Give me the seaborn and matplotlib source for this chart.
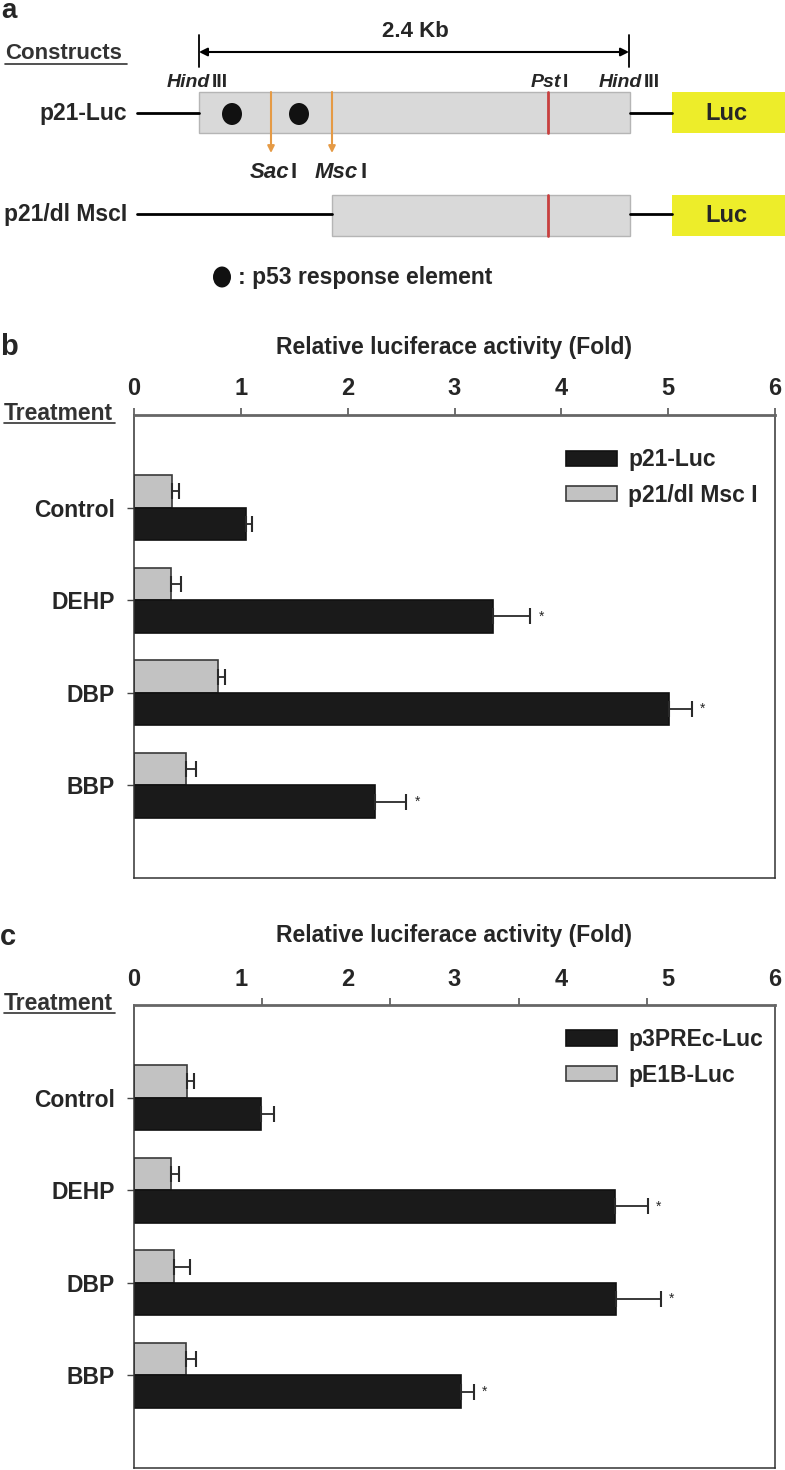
import matplotlib
matplotlib.use("Agg")
import matplotlib.pyplot as plt
import matplotlib.patches as mpatches
import numpy as np
import pandas as pd
import seaborn as sns

# values (fold change, upper error only)
treatments = ['Control', 'DEHP', 'DBP', 'BBP']

b_luc = [1.05, 3.36, 5.01, 2.26]
b_luc_err = [0.05, 0.35, 0.21, 0.29]
b_msc = [0.36, 0.35, 0.79, 0.49]
b_msc_err = [0.06, 0.09, 0.06, 0.09]

c_pre = [1.19, 4.50, 4.51, 3.06]
c_pre_err = [0.12, 0.31, 0.42, 0.12]
c_e1b = [0.50, 0.35, 0.37, 0.49]
c_e1b_err = [0.06, 0.07, 0.15, 0.09]

b_names = ['p21-Luc', 'p21/dl Msc I']
c_names = ['p3PREc-Luc', 'pE1B-Luc']
b_stars = ['', '*', '*', '*']
c_stars = ['', '*', '*', '*']

x_ticks = [0, 1, 2, 3, 4, 5, 6]
c_tick_marks = [0, 1.2, 2.4, 3.6, 4.8, 6]

sns.set_theme(style='white')
plt.rcParams['font.family'] = ['Liberation Sans', 'DejaVu Sans']
plt.rcParams['font.weight'] = 'bold'

W, H = 785, 1470
fig = plt.figure(figsize=(W / 100, H / 100), dpi=100)

# overlay in pixel coordinates for panel a and labels
ov = fig.add_axes([0, 0, 1, 1])
ov.set_xlim(0, W)
ov.set_ylim(H, 0)
ov.axis('off')

BLACK = '#1a1a1a'
GRAY = '#c2c2c2'
ORANGE = '#e59a45'
RED = '#c8403f'
BOXGRAY = '#d9d9d9'
YELLOW = '#eded2a'
FS = 16.5

# ---- panel a: construct diagram ----
ov.text(1, 18, 'a', fontsize=20, fontweight='bold', va='baseline', ha='left')
ov.text(415, 31, '2.4 Kb', fontsize=16, fontweight='bold', ha='center', va='center')
ov.annotate('', xy=(199, 52), xytext=(629, 52),
            arrowprops=dict(arrowstyle='<|-|>', color='black', lw=1.5, mutation_scale=12,
                            shrinkA=0, shrinkB=0))
ov.plot([199, 199], [35, 67], color='black', lw=1.3)
ov.plot([629, 629], [35, 67], color='black', lw=1.3)
ov.text(5, 53, 'Constructs', fontsize=16, fontweight='bold', ha='left', va='center', color='#333333')
ov.plot([5, 127], [64, 64], color='#333333', lw=1.2)


def site(x_split, y, it, reg, size=12):
    ov.text(x_split, y, it, fontsize=size, fontweight='bold', style='italic', ha='right', va='center')
    ov.text(x_split + 2, y, reg, fontsize=size, fontweight='bold', ha='left', va='center')


site(210, 82, 'Hind', 'III', 14)
site(561, 82, 'Pst', 'I', 14)
site(642, 82, 'Hind', 'III', 14)

# row 1
ov.text(127, 113, 'p21-Luc', fontsize=FS, fontweight='bold', ha='right', va='center')
ov.plot([137, 199], [113, 113], color='black', lw=2)
ov.plot([630, 672], [113, 113], color='black', lw=2)
ov.add_patch(mpatches.Rectangle((199, 92), 431, 41, facecolor=BOXGRAY, edgecolor='#b5b5b5', lw=1))
ov.add_patch(mpatches.Rectangle((672, 92), 113, 41, facecolor=YELLOW, edgecolor='none'))
ov.text(726, 113, 'Luc', fontsize=17, fontweight='bold', ha='center', va='center')
for dx in [232, 299]:
    ov.add_patch(mpatches.Ellipse((dx, 114), 20, 22, facecolor='#111111', edgecolor='none'))
ov.plot([548, 548], [92, 133], color=RED, lw=2)
for ox in [271, 332]:
    ov.annotate('', xy=(ox, 153), xytext=(ox, 92),
                arrowprops=dict(arrowstyle='-|>', color=ORANGE, lw=1.5, mutation_scale=10,
                                shrinkA=0, shrinkB=0))
site(289, 172, 'Sac', 'I', 16)
site(358, 172, 'Msc', 'I', 16)

# row 2
ov.text(127, 214, 'p21/dl MscI', fontsize=FS, fontweight='bold', ha='right', va='center')
ov.plot([137, 332], [214, 214], color='black', lw=2)
ov.plot([630, 672], [214, 214], color='black', lw=2)
ov.add_patch(mpatches.Rectangle((332, 195), 298, 41, facecolor=BOXGRAY, edgecolor='#b5b5b5', lw=1))
ov.add_patch(mpatches.Rectangle((672, 195), 113, 41, facecolor=YELLOW, edgecolor='none'))
ov.text(726, 215, 'Luc', fontsize=17, fontweight='bold', ha='center', va='center')
ov.plot([548, 548], [195, 236], color=RED, lw=2)

ov.add_patch(mpatches.Ellipse((222, 277), 18, 21, facecolor='#111111', edgecolor='none'))
ov.text(238, 277, ': p53 response element', fontsize=FS, fontweight='bold', ha='left', va='center')


# ---- panels b and c: bar charts ----
def bar_panel(top_px, bottom_px, letter, names, dark, dark_err, light, light_err, stars,
              tick_marks, labelpad, legend_y):
    left, right = 134, 775
    ax = fig.add_axes([left / W, 1 - bottom_px / H, (right - left) / W, (bottom_px - top_px) / H])
    df = pd.DataFrame({
        'Treatment': treatments * 2,
        'value': list(light) + list(dark),
        'construct': [names[1]] * 4 + [names[0]] * 4,
    })
    sns.barplot(data=df, x='value', y='Treatment', hue='construct', hue_order=[names[1], names[0]],
                palette=[GRAY, BLACK], orient='h', width=0.7, errorbar=None, ax=ax,
                saturation=1, legend=False)
    errs = [light_err, dark_err]
    edges = ['#3a3a3a', '#111111']
    bar_conts = list(ax.containers)
    for k, cont in enumerate(bar_conts):
        for i, bar in enumerate(cont.patches):
            bar.set_edgecolor(edges[k])
            bar.set_linewidth(1.2)
            yc = bar.get_y() + bar.get_height() / 2
            xv = bar.get_width()
            ax.errorbar([xv], [yc], xerr=[[0], [errs[k][i]]], fmt='none', ecolor='#2a2a2a',
                        elinewidth=1.3, capsize=6, capthick=1.5)
            if k == 1 and stars[i]:
                ax.annotate(stars[i], xy=(xv + errs[k][i], yc), xytext=(6, 0),
                            textcoords='offset points', ha='left', va='center',
                            fontsize=10, fontweight='normal')
    ax.set_xlim(0, 6)
    ax.set_ylim(4, -1)
    ax.xaxis.tick_top()
    ax.xaxis.set_label_position('top')
    ax.set_xlabel('Relative luciferace activity (Fold)', fontsize=FS, fontweight='bold', labelpad=labelpad)
    ax.set_ylabel('')
    ax.set_xticks(x_ticks)
    ax.set_xticklabels([str(t) for t in x_ticks], fontsize=17, fontweight='bold')
    if tick_marks is None:
        ax.tick_params(axis='x', which='major', top=True, bottom=False, length=5, width=1.2,
                       color='#555555', pad=5.5, direction='out')
    else:
        ax.tick_params(axis='x', which='major', top=False, bottom=False, length=5, pad=5)
        ax.set_xticks(tick_marks, minor=True)
        ax.tick_params(axis='x', which='minor', top=True, bottom=False, length=5, width=1.2,
                       color='#555555', direction='out')
    ax.set_yticks(range(len(treatments)))
    ax.set_yticklabels(treatments, fontsize=FS, fontweight='bold')
    ax.tick_params(axis='y', left=True, length=5, width=1, color='#444444', pad=9, direction='out')
    for s in ['left', 'right', 'bottom']:
        ax.spines[s].set_color('#333333')
        ax.spines[s].set_linewidth(1.1)
    ax.spines['top'].set_color('#666666')
    ax.spines['top'].set_linewidth(2)
    handles = [mpatches.Patch(facecolor=BLACK, edgecolor='#111111', lw=1.2, label=names[0]),
               mpatches.Patch(facecolor=GRAY, edgecolor='#3a3a3a', lw=1.2, label=names[1])]
    ax.legend(handles=handles, loc='upper left', bbox_to_anchor=((557 - left) / (right - left), legend_y),
              frameon=False, prop={'size': FS, 'weight': 'bold'}, handlelength=2.2, handleheight=0.65,
              handletextpad=0.5, labelspacing=0.55, borderaxespad=0)

    ov.text(0, top_px - 68, letter, fontsize=21, fontweight='bold', ha='left', va='center')
    ov.text(4, top_px - 2, 'Treatment', fontsize=FS, fontweight='bold', ha='left', va='center',
            color='#333333')
    ov.plot([4, 115], [top_px + 8, top_px + 8], color='#333333', lw=1.2)
    return ax


bar_panel(415, 878, 'b', b_names, b_luc, b_luc_err, b_msc, b_msc_err, b_stars, None, 17, 0.948)
bar_panel(1005, 1468, 'c', c_names, c_pre, c_pre_err, c_e1b, c_e1b_err, c_stars, c_tick_marks, 19, 0.97)

fig.savefig('out.png', dpi=100)
